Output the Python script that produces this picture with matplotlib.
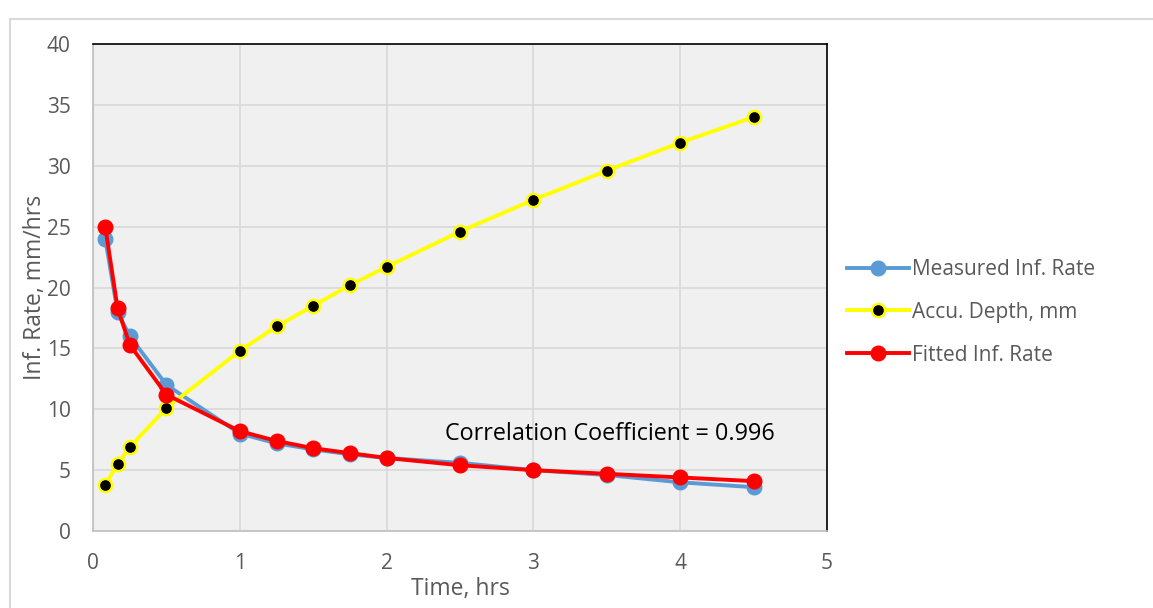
import matplotlib
matplotlib.use("Agg")
import matplotlib.pyplot as plt
from matplotlib.patches import Rectangle

# data
time_hrs = [0.083, 0.167, 0.25, 0.5, 1, 1.25, 1.5, 1.75, 2, 2.5, 3, 3.5, 4, 4.5]
measured_rate = [24, 18, 16, 12, 8, 7.2, 6.7, 6.3, 6.0, 5.6, 5.0, 4.6, 4.0, 3.6]
accu_depth = [3.8, 5.5, 6.9, 10.1, 14.8, 16.8, 18.5, 20.2, 21.7, 24.6, 27.2, 29.6, 31.9, 34.0]
fitted_rate = [25, 18.3, 15.3, 11.2, 8.2, 7.4, 6.8, 6.4, 6.0, 5.4, 5.0, 4.7, 4.4, 4.1]

plt.rcParams['font.family'] = ['Open Sans', 'DejaVu Sans']
text_col = '#595959'

fig = plt.figure(figsize=(11.53, 6.08), dpi=100)
# outer chart frame
fig.patches.append(Rectangle((10 / 1153, -0.01), 1.1, 0.995 - 10 / 608, transform=fig.transFigure,
                             fill=False, edgecolor='#d9d9d9', linewidth=1.5))

ax = fig.add_axes([0.0807, 0.1266, 0.6366, 0.801])
ax.set_facecolor('#f0f0f0')

ax.plot(time_hrs, measured_rate, color='#5b9bd5', linewidth=2.8, marker='o',
        markersize=10.5, label='Measured Inf. Rate', zorder=3)
ax.plot(time_hrs, accu_depth, color='#ffff00', linewidth=2.8, marker='o',
        markersize=9.5, markerfacecolor='black', markeredgecolor='#ffff00',
        markeredgewidth=1.8, label='Accu. Depth, mm', zorder=4)
ax.plot(time_hrs, fitted_rate, color='#ff0000', linewidth=2.8, marker='o',
        markersize=10.5, label='Fitted Inf. Rate', zorder=5)

ax.set_xlim(0, 5)
ax.set_ylim(0, 40)
ax.set_xticks(range(0, 6))
ax.set_yticks(range(0, 45, 5))
ax.grid(True, color='#d9d9d9', linewidth=1.2)
ax.set_axisbelow(True)
ax.tick_params(length=0, labelsize=15, colors=text_col, pad=16)

for side in ['left', 'bottom']:
    ax.spines[side].set_color('#bfbfbf')
    ax.spines[side].set_linewidth(1.2)
for side in ['top', 'right']:
    ax.spines[side].set_color('black')
    ax.spines[side].set_linewidth(1.2)

ax.set_xlabel('Time, hrs', fontsize=16.5, color=text_col, labelpad=2)
ax.set_ylabel('Inf. Rate, mm/hrs', fontsize=16.5, color=text_col, labelpad=0)

ax.text(2.4, 8.0, 'Correlation Coefficient = 0.996', fontsize=16.8, color='black',
        va='center')

leg = fig.legend(loc='upper left', bbox_to_anchor=(0.718, 0.605), frameon=False,
                 fontsize=15, handlelength=3, labelspacing=1.05, handletextpad=0.15)
for t in leg.get_texts():
    t.set_color(text_col)

fig.savefig('out.png', dpi=100)
